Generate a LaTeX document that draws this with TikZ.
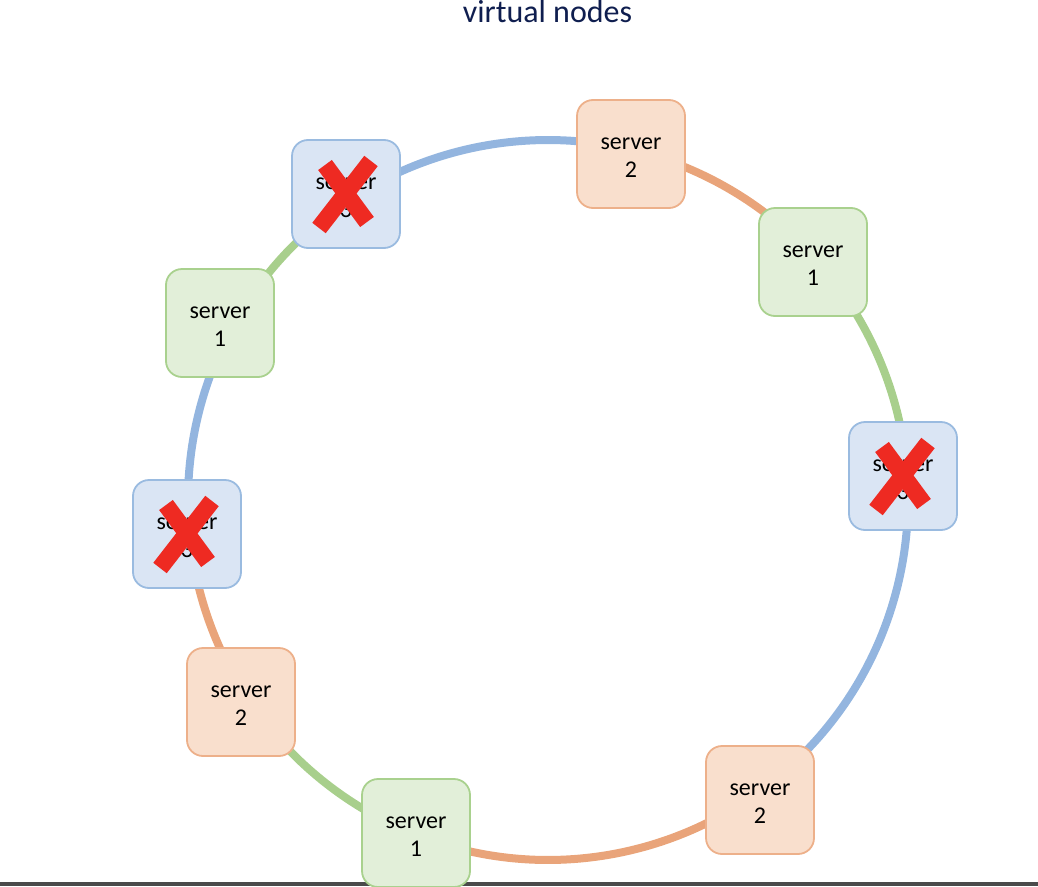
\documentclass[tikz,border=0pt]{standalone}
\usepackage{fontspec}
\setmainfont{Carlito}
\usetikzlibrary{backgrounds,calc}
\definecolor{titlecol}{HTML}{0F1E4F}
\definecolor{lblue}{HTML}{93B5DF}
\definecolor{lorange}{HTML}{E9A47A}
\definecolor{lgreen}{HTML}{A8CF8C}
\definecolor{fblue}{HTML}{DAE5F4}
\definecolor{dblue}{HTML}{9ABBE0}
\definecolor{forange}{HTML}{F9DFCD}
\definecolor{dorange}{HTML}{EDB08A}
\definecolor{fgreen}{HTML}{E2EFD9}
\definecolor{dgreen}{HTML}{A9D18E}
\definecolor{xred}{HTML}{EE2A22}
\definecolor{barcol}{HTML}{4A4A4A}
\tikzset{
  srv/.style={rounded corners=16pt, minimum width=108pt, minimum height=108pt,
    line width=1.8pt, align=center, inner sep=0pt, text height=47pt, text depth=0pt,
    font=\fontsize{24}{28}\selectfont, text=black},
  srvblue/.style={srv, draw=dblue, fill=fblue},
  srvorange/.style={srv, draw=dorange, fill=forange},
  srvgreen/.style={srv, draw=dgreen, fill=fgreen},
  ring/.style={line width=8pt},
  xmark/.style={draw=xred, line width=17pt, line cap=butt},
  titlestyle/.style={font=\fontsize{32}{36}\selectfont, text=titlecol, inner sep=0pt}
}
\begin{document}
\begin{tikzpicture}[x=1pt,y=1pt]
\useasboundingbox (0,0) rectangle (1038,-886);
\node[titlestyle, anchor=base] (title) at (547.5,-22.5) {virtual nodes};
\fill[barcol] (0,-882) rectangle (1038,-886);
\coordinate (ctr) at (548,-500);

\node[srvblue]   (I) at (346,-194) {server\\3};
\node[srvorange] (A) at (631,-154) {server\\2};
\node[srvgreen]  (B) at (813,-262) {server\\1};
\node[srvblue]   (C) at (903,-476) {server\\3};
\node[srvorange] (D) at (760,-800) {server\\2};
\node[srvgreen]  (E) at (416,-833) {server\\1};
\node[srvorange] (F) at (241,-702) {server\\2};
\node[srvblue]   (G) at (187,-534) {server\\3};
\node[srvgreen]  (H) at (220,-323) {server\\1};

\begin{pgfonlayer}{background}
\foreach \a/\b/\c in {I/A/lblue, A/B/lorange, B/C/lgreen, C/D/lblue, D/E/lorange,
                      E/F/lgreen, F/G/lorange, G/H/lblue, H/I/lgreen}{
  \draw[ring, \c] let \p1=($(\a)-(ctr)$), \p2=($(\b)-(ctr)$),
      \n1={atan2(\y1,\x1)}, \n2={atan2(\y2,\x2)},
      \n3={ifthenelse(\n2>\n1,\n2-360,\n2)} in
    ($(ctr)+(\n1:360)$) arc[start angle=\n1, end angle=\n3, radius=360];
}
\end{pgfonlayer}

\foreach \n in {I,C,G}{
  \draw[xmark] ([shift={(-21,29)}]\n.center) -- ([shift={(21,-28)}]\n.center);
  \draw[xmark] ([shift={(25,33)}]\n.center) -- ([shift={(-27,-34)}]\n.center);
}
\end{tikzpicture}
\end{document}
